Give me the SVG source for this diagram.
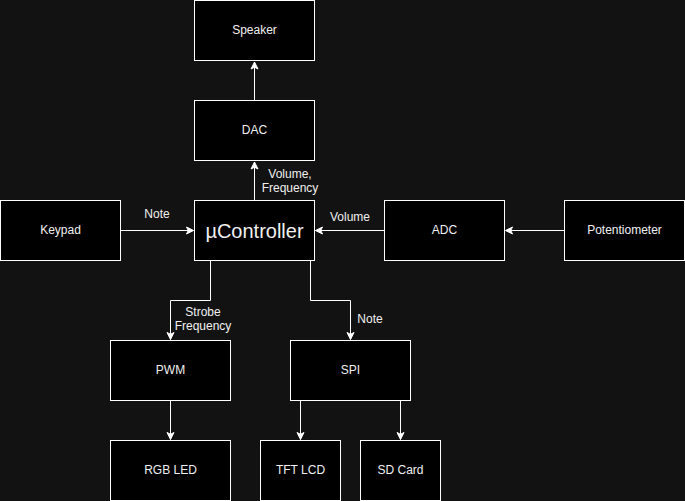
<svg xmlns="http://www.w3.org/2000/svg" width="685" height="501" viewBox="0 0 685 501">
<style>
.box{fill:#000000;stroke:#ffffff;stroke-width:1}
.t{font-family:"Liberation Sans",Arial,sans-serif;font-size:12px;fill:#f0f0f0;text-anchor:middle}
.big{font-size:20px}
.lbl{font-family:"Liberation Sans",Arial,sans-serif;font-size:12px;fill:#f0f0f0;text-anchor:middle}
.e{fill:none;stroke:#ffffff;stroke-width:1;marker-end:url(#arr)}
</style>
<defs>
<marker id="arr" markerUnits="userSpaceOnUse" markerWidth="10" markerHeight="10" viewBox="-8 -5 10 10" refX="0" refY="0" orient="auto">
<path d="M0,0 L-7,-3.5 L-5.25,0 L-7,3.5 Z" fill="#ffffff" stroke="#ffffff" stroke-width="1"/>
</marker>
</defs>
<rect width="685" height="501" fill="#121212"/>
<g id="connectors">
<path class="e" d="M254.5,100 L254.5,62"/>
<path class="e" d="M254.5,200 L254.5,162"/>
<path class="e" d="M120.5,230.5 L193.5,230.5"/>
<path class="e" d="M384.5,230.5 L315.5,230.5"/>
<path class="e" d="M564.5,230.5 L505.5,230.5"/>
<path class="e" d="M210.5,260.5 L210.5,300.5 L170.5,300.5 L170.5,339.5"/>
<path class="e" d="M310.5,260.5 L310.5,300.5 L350.5,300.5 L350.5,339.5"/>
<path class="e" d="M170.5,400.5 L170.5,439.5"/>
<path class="e" d="M300.5,400.5 L300.5,439.5"/>
<path class="e" d="M400.5,400.5 L400.5,439.5"/>
<text class="lbl" x="290" y="178">Volume,</text>
<text class="lbl" x="290" y="191.5">Frequency</text>
<text class="lbl" x="157" y="217.5">Note</text>
<text class="lbl" x="350" y="220.5">Volume</text>
<text class="lbl" x="203" y="316">Strobe</text>
<text class="lbl" x="203" y="329.5">Frequency</text>
<text class="lbl" x="370" y="322.5">Note</text>
</g>
<g id="speaker"><rect class="box" x="194.5" y="0.5" width="120" height="60"/><text class="t" x="254.5" y="33.5">Speaker</text></g>
<g id="dac"><rect class="box" x="194.5" y="100.5" width="120" height="60"/><text class="t" x="254.5" y="133.5">DAC</text></g>
<g id="ucontroller"><rect class="box" x="194.5" y="200.5" width="120" height="60"/><text class="t big" x="254.5" y="237.5">µController</text></g>
<g id="keypad"><rect class="box" x="0.5" y="200.5" width="120" height="60"/><text class="t" x="60.5" y="233.5">Keypad</text></g>
<g id="adc"><rect class="box" x="384.5" y="200.5" width="120" height="60"/><text class="t" x="444.5" y="233.5">ADC</text></g>
<g id="potentiometer"><rect class="box" x="564.5" y="200.5" width="120" height="60"/><text class="t" x="624.5" y="233.5">Potentiometer</text></g>
<g id="pwm"><rect class="box" x="110.5" y="340.5" width="120" height="60"/><text class="t" x="170.5" y="373.5">PWM</text></g>
<g id="spi"><rect class="box" x="290.5" y="340.5" width="120" height="60"/><text class="t" x="350.5" y="373.5">SPI</text></g>
<g id="rgbled"><rect class="box" x="110.5" y="440.5" width="120" height="60"/><text class="t" x="170.5" y="473.5">RGB LED</text></g>
<g id="tftlcd"><rect class="box" x="260.5" y="440.5" width="80" height="60"/><text class="t" x="300.5" y="473.5">TFT LCD</text></g>
<g id="sdcard"><rect class="box" x="360.5" y="440.5" width="80" height="60"/><text class="t" x="400.5" y="473.5">SD Card</text></g>
</svg>
